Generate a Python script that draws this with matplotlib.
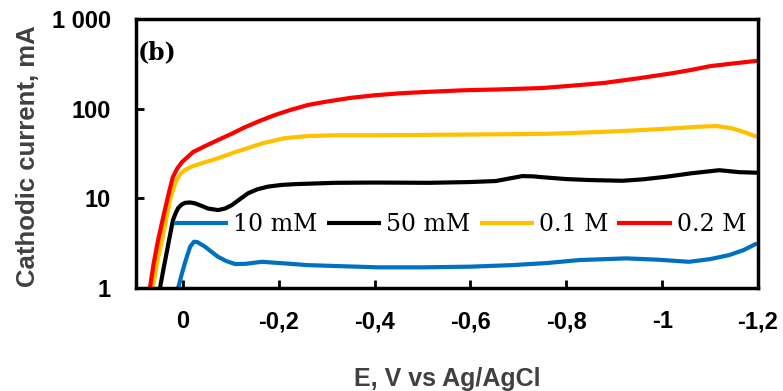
"""Cathodic current vs potential for four electrolyte concentrations."""

import matplotlib
matplotlib.use("Agg")
import matplotlib.pyplot as plt


LABELS = ["10 mM", "50 mM", "0.1 M", "0.2 M"]
COLORS = ["#0070C0", "#000000", "#FFC000", "#FF0000"]

# potential (V vs Ag/AgCl) and cathodic current (mA) for each run
E_10MM = [0.012, 0.010, 0.003, -0.004, -0.010, -0.015, -0.023, -0.030, -0.046,
          -0.060, -0.073, -0.090, -0.109, -0.130, -0.165, -0.213, -0.26, -0.317,
          -0.409, -0.50, -0.60, -0.687, -0.76, -0.827, -0.925, -0.99, -1.056,
          -1.10, -1.14, -1.17, -1.198]
I_10MM = [0.9, 1.0, 1.4, 1.9, 2.4, 2.89, 3.28, 3.25, 2.89,
          2.52, 2.23, 2.0, 1.85, 1.86, 1.96, 1.88, 1.80, 1.76,
          1.70, 1.70, 1.73, 1.80, 1.90, 2.05, 2.14, 2.07, 1.96,
          2.1, 2.33, 2.65, 3.15]

E_50MM = [0.050, 0.048, 0.040, 0.033, 0.027, 0.021, 0.015, 0.010, 0.003, -0.004,
          -0.015, -0.025, -0.040, -0.052, -0.073, -0.088, -0.102, -0.120, -0.136,
          -0.155, -0.177, -0.205, -0.234, -0.317, -0.40, -0.514, -0.60, -0.653,
          -0.685, -0.708, -0.73, -0.75, -0.80, -0.848, -0.917, -0.96, -1.008,
          -1.06, -1.119, -1.16, -1.198]
I_50MM = [0.9, 1.0, 1.7, 2.65, 3.9, 5.7, 6.9, 7.8, 8.5, 8.9,
          9.0, 8.8, 8.2, 7.7, 7.4, 7.7, 8.4, 9.9, 11.4,
          12.6, 13.5, 14.1, 14.4, 14.9, 15.0, 14.9, 15.2, 15.6,
          16.8, 17.7, 17.6, 17.2, 16.4, 16.0, 15.7, 16.3, 17.4,
          19.0, 20.6, 19.6, 19.3]

E_01M = [0.066, 0.063, 0.054, 0.044, 0.035, 0.027, 0.020, 0.013, 0.005, -0.004,
         -0.020, -0.040, -0.073, -0.109, -0.140, -0.165, -0.213, -0.261, -0.317,
         -0.40, -0.50, -0.60, -0.70, -0.764, -0.883, -0.95, -1.021, -1.08,
         -1.113, -1.146, -1.17, -1.198]
I_01M = [0.9, 1.0, 1.9, 3.4, 5.8, 9.6, 12.8, 16.0, 18.8, 20.7,
         22.8, 24.7, 28.0, 32.8, 37.0, 41.0, 47.0, 49.5, 50.5,
         50.5, 51.0, 51.5, 52.0, 52.5, 55.3, 57.5, 60.3, 63.0,
         64.0, 60.3, 55.0, 48.6]

E_02M = [0.072, 0.069, 0.061, 0.052, 0.043, 0.033, 0.027, 0.021, 0.012, 0.002,
         -0.010, -0.021, -0.045, -0.073, -0.100, -0.129, -0.160, -0.192, -0.225,
         -0.261, -0.30, -0.35, -0.40, -0.45, -0.50, -0.58, -0.66, -0.75, -0.82,
         -0.88, -0.95, -1.02, -1.06, -1.10, -1.15, -1.198]
I_02M = [0.9, 1.0, 1.9, 3.4, 5.6, 9.6, 13.0, 17.3, 21.5, 25.4,
         29.0, 32.8, 38.0, 44.7, 52.0, 62.0, 73.0, 85.0, 97.0,
         110.0, 120.0, 132.0, 141.0, 148.0, 153.0, 160.0, 164.0, 170.0, 182.0,
         194.0, 218.0, 248.0, 270.0, 298.0, 320.0, 342.0]

X_TICKS = [0, -0.2, -0.4, -0.6, -0.8, -1, -1.2]
X_TICKLABELS = ["0", "-0,2", "-0,4", "-0,6", "-0,8", "-1", "-1,2"]
Y_TICKS = [1, 10, 100, 1000]
Y_TICKLABELS = ["1", "10", "100", "1 000"]

TICK_FONT = dict(family="Liberation Sans", weight="bold", size=17)
LABEL_FONT = dict(family="Liberation Sans", weight="bold", size=18)


def current_plot():
    fig = plt.figure(figsize=(7.83, 3.91), dpi=100)
    ax = fig.add_axes([0.1737, 0.2634, 0.7944, 0.688])

    series = [(E_10MM, I_10MM), (E_50MM, I_50MM), (E_01M, I_01M), (E_02M, I_02M)]
    for (e, i), lab, col in zip(series, LABELS, COLORS):
        ax.plot(e, i, color=col, lw=3, label=lab, solid_capstyle="butt")

    ax.set_yscale("log")
    ax.set_xlim(0.098, -1.2)
    ax.set_ylim(1, 1000)

    ax.set_xticks(X_TICKS)
    ax.set_xticklabels(X_TICKLABELS, fontdict=TICK_FONT)
    ax.set_yticks(Y_TICKS)
    ax.set_yticklabels(Y_TICKLABELS, fontdict=TICK_FONT)
    ax.minorticks_off()
    ax.tick_params(axis="x", direction="in", length=6, width=2, pad=16)
    ax.tick_params(axis="y", direction="in", length=6, width=2, pad=18)
    for sp in ax.spines.values():
        sp.set_linewidth(2.5)

    ax.set_xlabel("E, V vs Ag/AgCl", color="#404040", **LABEL_FONT)
    ax.set_ylabel("Cathodic current, mA", color="#404040",
                  family="Liberation Sans", weight="bold", size=18.5)
    ax.xaxis.set_label_coords(0.5, -0.295)
    ax.yaxis.set_label_coords(-0.154, 0.49)

    ax.text(0.003, 0.875, "(b)", transform=ax.transAxes, ha="left", va="center",
            family="DejaVu Serif", weight="bold", size=17)

    ax.legend(loc="center left", bbox_to_anchor=(0.061, 0.236), ncol=4,
              frameon=False, borderpad=0, borderaxespad=0,
              handlelength=2.3, handletextpad=0.2, columnspacing=0.4,
              prop=dict(family="DejaVu Serif", size=17))

    fig.savefig("out.png", dpi=100)


if __name__ == "__main__":
    current_plot()
